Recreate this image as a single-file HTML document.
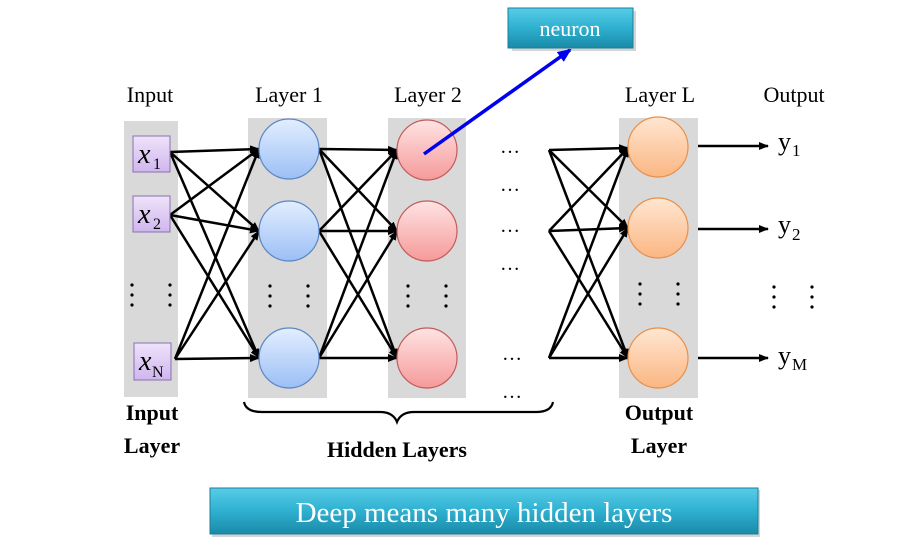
<!DOCTYPE html>
<html><head><meta charset="utf-8"><style>
body{margin:0;background:#fff;}
svg, svg text{font-family:"Liberation Serif","DejaVu Serif",serif !important;}
</style></head><body>
<svg width="918" height="551" viewBox="0 0 918 551" xmlns="http://www.w3.org/2000/svg" font-family="Liberation Serif, serif">
<defs>
<marker id="a" markerWidth="10" markerHeight="8" refX="9" refY="4" orient="auto" markerUnits="userSpaceOnUse"><path d="M0,0 L10,4 L0,8 z" fill="#000"/></marker>
<marker id="b" markerWidth="14" markerHeight="12" refX="12" refY="6" orient="auto" markerUnits="userSpaceOnUse"><path d="M0,0 L14,6 L0,12 z" fill="#0000ee"/></marker>
<linearGradient id="gb" x1="0" y1="0" x2="0" y2="1"><stop offset="0" stop-color="#e3eeff"/><stop offset="1" stop-color="#9bbff5"/></linearGradient>
<linearGradient id="gr" x1="0" y1="0" x2="0" y2="1"><stop offset="0" stop-color="#ffe3e3"/><stop offset="1" stop-color="#f59a9a"/></linearGradient>
<linearGradient id="go" x1="0" y1="0" x2="0" y2="1"><stop offset="0" stop-color="#ffe6d2"/><stop offset="1" stop-color="#fbb682"/></linearGradient>
<linearGradient id="gp" x1="0" y1="0" x2="0" y2="1"><stop offset="0" stop-color="#efe3fa"/><stop offset="1" stop-color="#cfb6ee"/></linearGradient>
<linearGradient id="gt" x1="0" y1="0" x2="0" y2="1"><stop offset="0" stop-color="#56cde8"/><stop offset="0.5" stop-color="#2fb0d0"/><stop offset="1" stop-color="#1a8aa8"/></linearGradient>
</defs>
<rect x="124" y="121" width="54" height="276" fill="#d9d9d9"/>
<rect x="248" y="118" width="79" height="280" fill="#d9d9d9"/>
<rect x="388" y="118" width="78" height="280" fill="#d9d9d9"/>
<rect x="619" y="118" width="79" height="280" fill="#d9d9d9"/>
<g font-size="22" text-anchor="middle" fill="#000">
<text x="150" y="102">Input</text>
<text x="289" y="102">Layer 1</text>
<text x="428" y="102">Layer 2</text>
<text x="660" y="102">Layer L</text>
<text x="794" y="102">Output</text>
</g>
<g stroke="#000" stroke-width="2.5" marker-end="url(#a)">
<line x1="170" y1="152" x2="259" y2="149"/><line x1="170" y1="152" x2="259" y2="231"/><line x1="170" y1="152" x2="259" y2="358"/>
<line x1="170" y1="215" x2="259" y2="149"/><line x1="170" y1="215" x2="259" y2="231"/><line x1="170" y1="215" x2="259" y2="358"/>
<line x1="175" y1="359" x2="259" y2="149"/><line x1="175" y1="359" x2="259" y2="231"/><line x1="175" y1="359" x2="259" y2="358"/>
<line x1="319" y1="149" x2="397" y2="150"/><line x1="319" y1="149" x2="397" y2="231"/><line x1="319" y1="149" x2="397" y2="358"/>
<line x1="319" y1="231" x2="397" y2="150"/><line x1="319" y1="231" x2="397" y2="231"/><line x1="319" y1="231" x2="397" y2="358"/>
<line x1="319" y1="358" x2="397" y2="150"/><line x1="319" y1="358" x2="397" y2="231"/><line x1="319" y1="358" x2="397" y2="358"/>
<line x1="549" y1="150" x2="628" y2="148"/><line x1="549" y1="150" x2="628" y2="228"/><line x1="549" y1="150" x2="628" y2="358"/>
<line x1="549" y1="231" x2="628" y2="148"/><line x1="549" y1="231" x2="628" y2="228"/><line x1="549" y1="231" x2="628" y2="358"/>
<line x1="549" y1="358" x2="628" y2="148"/><line x1="549" y1="358" x2="628" y2="228"/><line x1="549" y1="358" x2="628" y2="358"/>
<line x1="698" y1="146" x2="768" y2="146"/><line x1="698" y1="229" x2="768" y2="229"/><line x1="698" y1="358" x2="768" y2="358"/>
</g>
<g stroke="#8a70b0" stroke-width="1" fill="url(#gp)">
<rect x="133" y="136" width="37" height="36"/><rect x="133" y="196" width="37" height="36"/><rect x="134" y="343" width="37" height="37"/>
</g>
<g font-size="28" font-style="italic">
<text x="138" y="163">x</text><text x="138" y="223">x</text><text x="139" y="370">x</text>
</g>
<g font-size="16">
<text x="153" y="169">1</text><text x="153" y="229">2</text><text x="152" y="377">N</text>
</g>
<g stroke="#5b86c4" stroke-width="1.2" fill="url(#gb)">
<circle cx="289" cy="149" r="30"/><circle cx="289" cy="231" r="30"/><circle cx="289" cy="358" r="30"/>
</g>
<g stroke="#c45b5b" stroke-width="1.2" fill="url(#gr)">
<circle cx="427" cy="150" r="30"/><circle cx="427" cy="231" r="30"/><circle cx="427" cy="358" r="30"/>
</g>
<g stroke="#e8904a" stroke-width="1.2" fill="url(#go)">
<circle cx="658" cy="147" r="30"/><circle cx="658" cy="228" r="30"/><circle cx="658" cy="358" r="30"/>
</g>
<g fill="#000">
<circle cx="132" cy="285" r="1.6"/><circle cx="132" cy="295" r="1.6"/><circle cx="132" cy="305" r="1.6"/>
<circle cx="170" cy="285" r="1.6"/><circle cx="170" cy="295" r="1.6"/><circle cx="170" cy="305" r="1.6"/>
<circle cx="270" cy="286" r="1.6"/><circle cx="270" cy="296" r="1.6"/><circle cx="270" cy="306" r="1.6"/>
<circle cx="308" cy="286" r="1.6"/><circle cx="308" cy="296" r="1.6"/><circle cx="308" cy="306" r="1.6"/>
<circle cx="408" cy="286" r="1.6"/><circle cx="408" cy="296" r="1.6"/><circle cx="408" cy="306" r="1.6"/>
<circle cx="446" cy="286" r="1.6"/><circle cx="446" cy="296" r="1.6"/><circle cx="446" cy="306" r="1.6"/>
<circle cx="640" cy="284" r="1.6"/><circle cx="640" cy="294" r="1.6"/><circle cx="640" cy="304" r="1.6"/>
<circle cx="678" cy="284" r="1.6"/><circle cx="678" cy="294" r="1.6"/><circle cx="678" cy="304" r="1.6"/>
<circle cx="774" cy="287" r="1.6"/><circle cx="774" cy="297" r="1.6"/><circle cx="774" cy="307" r="1.6"/>
<circle cx="812" cy="287" r="1.6"/><circle cx="812" cy="297" r="1.6"/><circle cx="812" cy="307" r="1.6"/>
</g>
<g font-size="20" text-anchor="middle">
<text x="510" y="153">…</text><text x="510" y="191">…</text><text x="510" y="232">…</text>
<text x="510" y="270">…</text><text x="512" y="360">…</text><text x="512" y="398">…</text>
</g>
<g font-size="26">
<text x="778" y="150">y</text><text x="778" y="233">y</text><text x="778" y="364">y</text>
</g>
<g font-size="17">
<text x="792" y="156">1</text><text x="792" y="240">2</text><text x="792" y="370">M</text>
</g>
<path d="M244,402 Q246,412 262,412 L380,412 Q393,412 397,422 Q401,412 414,412 L536,412 Q551,412 553,402" fill="none" stroke="#000" stroke-width="2.2"/>
<g font-size="22" font-weight="bold" text-anchor="middle">
<text x="152" y="420">Input</text><text x="152" y="453">Layer</text>
<text x="397" y="457">Hidden Layers</text>
<text x="659" y="420">Output</text><text x="659" y="453">Layer</text>
</g>
<rect x="510" y="9" width="124" height="40" fill="#888" opacity="0.35" transform="translate(2,2)"/>
<rect x="508" y="8" width="125" height="40" fill="url(#gt)" stroke="#1a7f9a"/>
<text x="570" y="36" font-size="22" fill="#fff" text-anchor="middle">neuron</text>
<line x1="424" y1="154" x2="570" y2="50" stroke="#0000ee" stroke-width="3.5" marker-end="url(#b)"/>
<rect x="212" y="490" width="548" height="47" fill="#888" opacity="0.35"/>
<rect x="210" y="488" width="548" height="46" fill="url(#gt)" stroke="#1a7f9a"/>
<text x="484" y="522" font-size="29" fill="#fff" text-anchor="middle">Deep means many hidden layers</text>
</svg>
</body></html>
